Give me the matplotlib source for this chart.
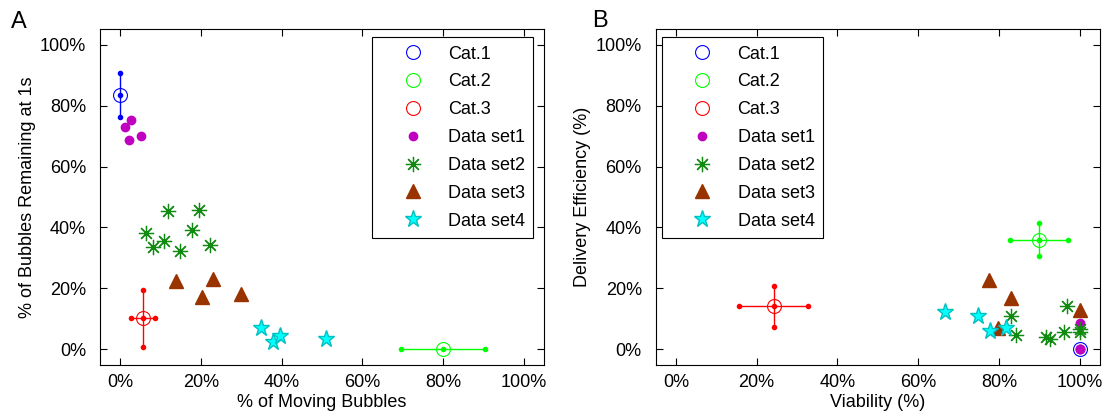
import numpy as np
import matplotlib
matplotlib.use("Agg")
import matplotlib.pyplot as plt
from matplotlib.ticker import FuncFormatter

plt.rcParams['font.family'] = ['Liberation Sans', 'DejaVu Sans']

# ---- panel A: moving bubbles vs bubbles remaining ----
a_cat_x = [0.0, 80.0, 5.6]
a_cat_y = [83.5, 0.0, 10.2]
a_cat_xerr = [0.0, 10.5, 3.0]
a_cat_yerr = [7.3, 0.0, 9.3]

a_set1_x = [2.6, 1.1, 2.2, 5.1]
a_set1_y = [75.2, 72.8, 68.8, 69.9]
a_set2_x = [11.9, 19.5, 17.8, 6.5, 10.9, 8.1, 14.8, 22.2]
a_set2_y = [45.3, 45.8, 39.1, 38.2, 35.7, 33.6, 32.3, 34.1]
a_set3_x = [13.8, 23.0, 20.2, 30.0]
a_set3_y = [22.6, 23.2, 17.3, 18.1]
a_set4_x = [34.9, 37.8, 39.7, 50.9]
a_set4_y = [7.1, 2.3, 4.4, 3.3]

# ---- panel B: viability vs delivery efficiency ----
b_cat_x = [100.0, 90.0, 24.2]
b_cat_y = [0.0, 36.0, 14.1]
b_cat_xerr = [0.0, 7.2, 8.6]
b_cat_yerr = [0.0, 5.5, 6.7]

b_set1_x = [100.0, 100.0, 100.0, 100.0]
b_set1_y = [0.0, 8.7, 0.0, 0.0]
b_set2_x = [83.0, 84.3, 91.7, 92.6, 96.0, 96.8, 100.0, 100.0]
b_set2_y = [11.1, 4.8, 4.2, 3.4, 5.7, 14.2, 6.8, 5.8]
b_set3_x = [77.5, 83.0, 100.0, 79.8]
b_set3_y = [22.7, 16.9, 12.9, 7.1]
b_set4_x = [66.6, 74.9, 77.8, 81.8]
b_set4_y = [12.3, 11.0, 6.2, 7.1]

cat_labels = ['Cat.1', 'Cat.2', 'Cat.3']
set_labels = ['Data set1', 'Data set2', 'Data set3', 'Data set4']
ticks = [0, 20, 40, 60, 80, 100]

cat_colors = ['#0000ff', '#00ff00', '#ff0000']
FS = 13


def draw_panel(ax, cx, cy, cxe, cye, sets):
    handles = []
    for x, y, xe, ye, c, lab in zip(cx, cy, cxe, cye, cat_colors, cat_labels):
        if xe > 0:
            ax.plot([x - xe, x + xe], [y, y], '-', color=c, lw=1.0,
                    marker='o', ms=3, zorder=2)
        if ye > 0:
            ax.plot([x, x], [y - ye, y + ye], '-', color=c, lw=1.0,
                    marker='o', ms=3, zorder=2)
        ax.plot([x], [y], 'o', color=c, ms=3, zorder=2)
        h, = ax.plot([x], [y], 'o', mfc='none', mec=c, mew=0.8, ms=10,
                     label=lab, zorder=2)
        handles.append(h)

    (s1x, s1y), (s2x, s2y), (s3x, s3y), (s4x, s4y) = sets
    h, = ax.plot(s1x, s1y, 'o', color='#c000c0', ms=6, ls='none',
                 label=set_labels[0], zorder=3)
    handles.append(h)
    h, = ax.plot(s2x, s2y, ls='none', marker=(8, 2, 0), color='#108a10',
                 mew=0.9, ms=11, label=set_labels[1], zorder=3)
    handles.append(h)
    h, = ax.plot(s3x, s3y, '^', ls='none', color='#993300', mec='#993300',
                 ms=10, label=set_labels[2], zorder=3)
    handles.append(h)
    h, = ax.plot(s4x, s4y, '*', ls='none', mfc='#00ffff', mec='#00c0c0',
                 ms=12.5, label=set_labels[3], zorder=3)
    handles.append(h)

    ax.set_xlim(-5, 105)
    ax.set_ylim(-5, 105)
    ax.set_xticks(ticks)
    ax.set_yticks(ticks)
    pct = FuncFormatter(lambda v, p: '%d%%' % v)
    ax.xaxis.set_major_formatter(pct)
    ax.yaxis.set_major_formatter(pct)
    ax.tick_params(direction='in', length=5, width=0.8, top=True, right=True,
                   labelsize=FS)
    ax.tick_params(axis='y', pad=10)
    ax.tick_params(axis='x', pad=7)
    for s in ax.spines.values():
        s.set_linewidth(0.8)
    return handles


fig = plt.figure(figsize=(11.08, 4.19), dpi=100)
axA = fig.add_axes([0.09025, 0.1296, 0.40072, 0.80048])
axB = fig.add_axes([0.59179, 0.1296, 0.40099, 0.80048])

hA = draw_panel(axA, a_cat_x, a_cat_y, a_cat_xerr, a_cat_yerr,
                [(a_set1_x, a_set1_y), (a_set2_x, a_set2_y),
                 (a_set3_x, a_set3_y), (a_set4_x, a_set4_y)])
hB = draw_panel(axB, b_cat_x, b_cat_y, b_cat_xerr, b_cat_yerr,
                [(b_set1_x, b_set1_y), (b_set2_x, b_set2_y),
                 (b_set3_x, b_set3_y), (b_set4_x, b_set4_y)])

axA.set_xlabel('% of Moving Bubbles', fontsize=FS, labelpad=2)
axA.set_ylabel('% of Bubbles Remaining at 1s', fontsize=FS, labelpad=3)
axB.set_xlabel('Viability (%)', fontsize=FS, labelpad=2)
axB.set_ylabel('Delivery Efficiency (%)', fontsize=FS, labelpad=3)

leg_kw = dict(fontsize=FS, fancybox=False, framealpha=1, edgecolor='black',
              borderaxespad=0, handlelength=3.6, handletextpad=0.15,
              labelspacing=0.6, borderpad=0.45, numpoints=1)
legA = axA.legend(handles=hA, loc='upper right',
                  bbox_to_anchor=(0.976, 0.9756), **leg_kw)
legB = axB.legend(handles=hB, loc='upper left',
                  bbox_to_anchor=(0.0135, 0.9756), **leg_kw)
for lg in (legA, legB):
    lg.get_frame().set_linewidth(0.8)

fig.text(11 / 1108, 1 - 28 / 419, 'A', fontsize=17, va='baseline')
fig.text(592 / 1108, 1 - 27 / 419, 'B', fontsize=17, va='baseline')

fig.savefig('out.png', dpi=100)
